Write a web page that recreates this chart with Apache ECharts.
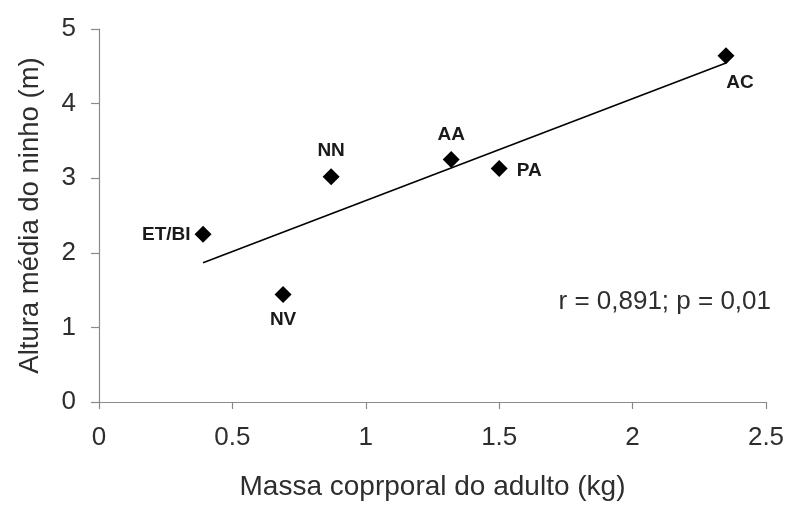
<!DOCTYPE html>
<html>
<head>
<meta charset="utf-8">
<script src="https://cdn.jsdelivr.net/npm/echarts@6/dist/echarts.min.js"></script>
<style>
  html, body { margin: 0; padding: 0; background: #ffffff; }
  #chart { width: 790px; height: 506px; }
</style>
</head>
<body>
<div id="chart"></div>
<script>
// Species codes and their values
const species    = ['ET/BI', 'NV', 'NN', 'AA', 'PA', 'AC'];
const adultMass  = [0.39, 0.69, 0.87, 1.32, 1.50, 2.35];   // kg
const nestHeight = [2.25, 1.44, 3.02, 3.25, 3.13, 4.64];   // m
const xTicks     = [0, 0.5, 1, 1.5, 2, 2.5];
const yTicks     = [0, 1, 2, 3, 4, 5];
const statsText  = 'r = 0,891; p = 0,01';

// Where each species label sits around its marker
const labelPlacement = {
  'ET/BI': { position: 'left',   distance: 4, offset: [0, 1] },
  'NV':    { position: 'bottom', distance: 7, offset: [0, 0] },
  'NN':    { position: 'top',    distance: 8, offset: [0, 0] },
  'AA':    { position: 'top',    distance: 7, offset: [0, 0] },
  'PA':    { position: 'right',  distance: 9, offset: [0, 2] },
  'AC':    { position: 'bottom', distance: 7, offset: [14, 2] }
};

// Least-squares trend line across the observed mass range
const n = adultMass.length;
const mx = adultMass.reduce((a, b) => a + b, 0) / n;
const my = nestHeight.reduce((a, b) => a + b, 0) / n;
let sxy = 0, sxx = 0;
for (let i = 0; i < n; i++) {
  sxy += (adultMass[i] - mx) * (nestHeight[i] - my);
  sxx += (adultMass[i] - mx) * (adultMass[i] - mx);
}
const slope = sxy / sxx;
const intercept = my - slope * mx;
const xLo = Math.min(...adultMass), xHi = Math.max(...adultMass);
const trend = [[xLo, intercept + slope * xLo], [xHi, intercept + slope * xHi]];

const FONT = "'Liberation Sans', Arial, sans-serif";
const TEXT = '#2e2e2e';
const AXIS = '#8a8a8a';

const points = species.map((s, i) => {
  const p = labelPlacement[s];
  return {
    name: s,
    value: [adultMass[i], nestHeight[i]],
    label: { position: p.position, distance: p.distance, offset: p.offset }
  };
});

const chart = echarts.init(document.getElementById('chart'));
chart.setOption({
  animation: false,
  backgroundColor: '#ffffff',
  grid: { left: 99, right: 24, top: 29, bottom: 103 },
  xAxis: {
    type: 'value',
    min: xTicks[0], max: xTicks[xTicks.length - 1], interval: 0.5,
    name: 'Massa coprporal do adulto (kg)',
    nameLocation: 'middle', nameGap: 71,
    nameTextStyle: { fontFamily: FONT, fontSize: 28, color: TEXT },
    axisLine: { lineStyle: { color: AXIS, width: 1.2 } },
    axisTick: { length: 7, lineStyle: { color: AXIS, width: 1.2 } },
    axisLabel: { fontFamily: FONT, fontSize: 26, color: TEXT, margin: 23,
                 formatter: v => String(v) },
    splitLine: { show: false }
  },
  yAxis: {
    type: 'value',
    min: yTicks[0], max: yTicks[yTicks.length - 1], interval: 1,
    name: 'Altura média do ninho (m)',
    nameLocation: 'middle', nameGap: 55,
    nameTextStyle: { fontFamily: FONT, fontSize: 27.5, color: TEXT },
    axisLine: { show: true, lineStyle: { color: AXIS, width: 1.2 } },
    axisTick: { show: true, length: 8, lineStyle: { color: AXIS, width: 1.2 } },
    axisLabel: { fontFamily: FONT, fontSize: 26, color: TEXT, margin: 23 },
    splitLine: { show: false }
  },
  series: [
    {
      type: 'line',
      data: trend,
      symbol: 'none',
      silent: true,
      lineStyle: { color: '#000000', width: 1.6 },
      z: 1
    },
    {
      type: 'scatter',
      data: points,
      symbol: 'diamond',
      symbolSize: 17,
      itemStyle: { color: '#000000', opacity: 1 },
      label: {
        show: true,
        formatter: '{b}',
        fontFamily: FONT,
        fontWeight: 'bold',
        fontSize: 19,
        color: '#1a1a1a'
      },
      z: 3
    }
  ],
  graphic: [
    {
      type: 'text',
      x: 771, y: 302,
      style: {
        text: statsText,
        font: "26px 'Liberation Sans', Arial, sans-serif",
        fill: TEXT,
        align: 'right',
        verticalAlign: 'middle'
      }
    }
  ]
});
</script>
</body>
</html>
